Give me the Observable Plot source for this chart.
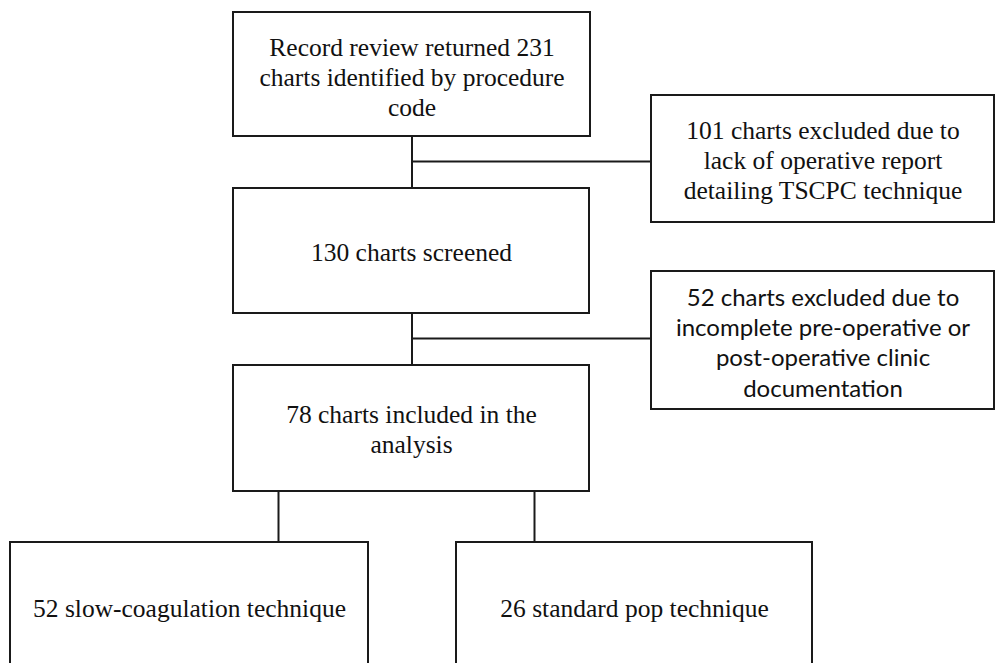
<!DOCTYPE html>
<html>
<head>
<meta charset="utf-8">
<script src="https://cdn.jsdelivr.net/npm/d3@7"></script>
<script src="https://cdn.jsdelivr.net/npm/@observablehq/plot@0.6"></script>
<style>
  html, body { margin: 0; padding: 0; background: #fff; overflow: hidden; }
  #chart svg { display: block; }
  #chart g.serif-text, #chart g.serif-text text { font-family: "Liberation Serif", "Times New Roman", serif !important; }
  #chart g.sans-text, #chart g.sans-text text { font-family: Lato, "Open Sans", sans-serif !important; }
</style>
</head>
<body>
<div id="chart"></div>
<script>
// Flowchart nodes
const boxLabels = [
  "Record review returned 231\ncharts identified by procedure\ncode",
  "101 charts excluded due to\nlack of operative report\ndetailing TSCPC technique",
  "130 charts screened",
  "52 charts excluded due to\nincomplete pre-operative or\npost-operative clinic\ndocumentation",
  "78 charts included in the\nanalysis",
  "52 slow-coagulation technique",
  "26 standard pop technique"
];
const boxLeft   = [233, 651, 233, 651, 233, 10, 456];
const boxRight  = [590, 994, 589, 994, 589, 368, 812];
const boxTop    = [12, 95, 188, 271, 365, 542, 542];
const boxBottom = [136, 222, 313, 409, 491, 700, 700];
const textY     = [76, 159, 251, 341, 428, 607, 607];
const boxSans   = [false, false, false, true, false, false, false];

// Connectors
const linkX1 = [411.5, 411.5, 411.5, 411.5, 278, 534];
const linkY1 = [136, 161, 313, 338, 491, 491];
const linkX2 = [411.5, 651, 411.5, 651, 278, 534];
const linkY2 = [188, 161, 365, 338, 542, 542];

const boxes = boxLabels.map((label, i) => ({
  label, x1: boxLeft[i], x2: boxRight[i], y1: boxTop[i], y2: boxBottom[i],
  cx: (boxLeft[i] + boxRight[i]) / 2, ty: textY[i], sans: boxSans[i]
}));
const links = linkX1.map((x, i) => ({x1: x, y1: linkY1[i], x2: linkX2[i], y2: linkY2[i]}));

const chart = Plot.plot({
  width: 997,
  height: 663,
  margin: 0,
  style: {background: "#fff"},
  x: {domain: [0, 997], range: [0, 997], axis: null},
  y: {domain: [0, 663], range: [0, 663], axis: null},
  marks: [
    Plot.link(links, {x1: "x1", y1: "y1", x2: "x2", y2: "y2", stroke: "#1a1a1a", strokeWidth: 2}),
    Plot.rect(boxes, {x1: "x1", x2: "x2", y1: "y1", y2: "y2", fill: "#fff", stroke: "#1a1a1a", strokeWidth: 2}),
    Plot.text(boxes.filter(d => !d.sans), {
      x: "cx", y: "ty", text: "label", fontSize: 25.5, lineHeight: 1.16,
      fontFamily: "Liberation Serif",
      fill: "#111", textAnchor: "middle", lineAnchor: "middle"
    }),
    Plot.text(boxes.filter(d => d.sans), {
      x: "cx", y: "ty", text: "label", fontSize: 24, lineHeight: 1.27,
      fontFamily: "Lato",
      fill: "#111", textAnchor: "middle", lineAnchor: "middle"
    })
  ]
});
const textGroups = chart.querySelectorAll('g[aria-label="text"]');
if (textGroups[0]) textGroups[0].classList.add("serif-text");
if (textGroups[1]) textGroups[1].classList.add("sans-text");
document.getElementById("chart").appendChild(chart);
</script>
</body>
</html>
